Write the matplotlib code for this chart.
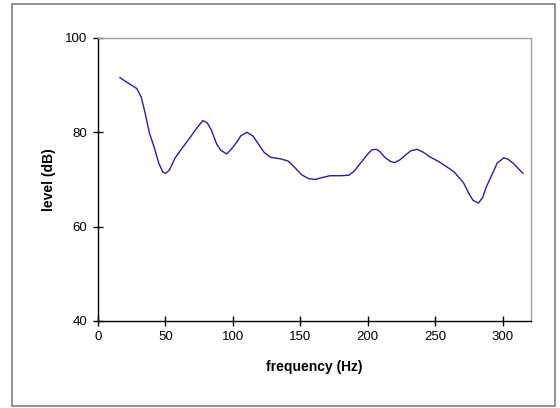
import matplotlib
matplotlib.use("Agg")
import matplotlib.pyplot as plt
from matplotlib.patches import Rectangle

# ---------------------------------------------------------------------------
# Data
# ---------------------------------------------------------------------------
freq_hz = [16.3, 22, 28.7, 32, 35, 38, 42, 45, 48, 50, 53, 57, 62, 68, 73,
           77.7, 81, 84, 88, 91, 95.5, 99, 102, 106, 110.4, 115, 119, 123,
           128, 135, 141, 146, 151, 156, 161, 166, 172, 180, 186, 190, 195,
           200, 203, 206.4, 209, 213, 217, 220, 224, 228, 232, 236.6, 241,
           246, 252, 258, 264, 268, 271, 275, 278, 282, 285, 288, 292, 296,
           300.9, 304, 308, 312, 315]
level_db = [91.6, 90.5, 89.3, 87.5, 84, 80, 76.5, 73.5, 71.6, 71.3, 72, 74.5,
            76.5, 78.8, 80.8, 82.5, 82, 80.5, 77.5, 76.2, 75.4, 76.5, 77.6,
            79.3, 80, 79.2, 77.5, 75.8, 74.7, 74.4, 73.9, 72.5, 71, 70.2, 70,
            70.4, 70.8, 70.8, 70.9, 71.8, 73.6, 75.4, 76.3, 76.4, 75.9, 74.6,
            73.8, 73.6, 74.2, 75.2, 76.1, 76.4, 75.8, 74.8, 73.9, 72.8, 71.6,
            70.3, 69.3, 67, 65.6, 65, 66.1, 68.5, 71, 73.5, 74.6, 74.3, 73.4,
            72.2, 71.3]

x_ticks = [0, 50, 100, 150, 200, 250, 300]
y_ticks = [40, 60, 80, 100]

plt.rcParams["font.family"] = ["Liberation Sans", "DejaVu Sans"]

fig = plt.figure(figsize=(5.6, 4.08), dpi=100)
ax = fig.add_axes([98 / 560, 1 - 321 / 408, 433 / 560, 283 / 408])

ax.plot(freq_hz, level_db, color="#22229a", linewidth=1.0,
        solid_joinstyle="round")

ax.set_xlim(0, 321)
ax.set_ylim(40, 100)
ax.set_xticks(x_ticks)
ax.set_yticks(y_ticks)
ax.tick_params(direction="inout", length=7, width=1, labelsize=9.5,
               colors="black", pad=4)

ax.spines["left"].set_color("black")
ax.spines["bottom"].set_color("black")
ax.spines["top"].set_color("#a0a0a0")
ax.spines["right"].set_color("#a0a0a0")
for s in ax.spines.values():
    s.set_linewidth(1.0)

ax.set_xlabel("frequency (Hz)", fontsize=10, fontweight="bold", labelpad=12)
ax.set_ylabel("level (dB)", fontsize=10, fontweight="bold", labelpad=7)

# chart-area frame
fig.patches.append(Rectangle((12 / 560, 2 / 408), 543 / 560, 402 / 408,
                             transform=fig.transFigure, fill=False,
                             edgecolor="#808080", linewidth=1.2))

fig.savefig("out.png", dpi=100)
